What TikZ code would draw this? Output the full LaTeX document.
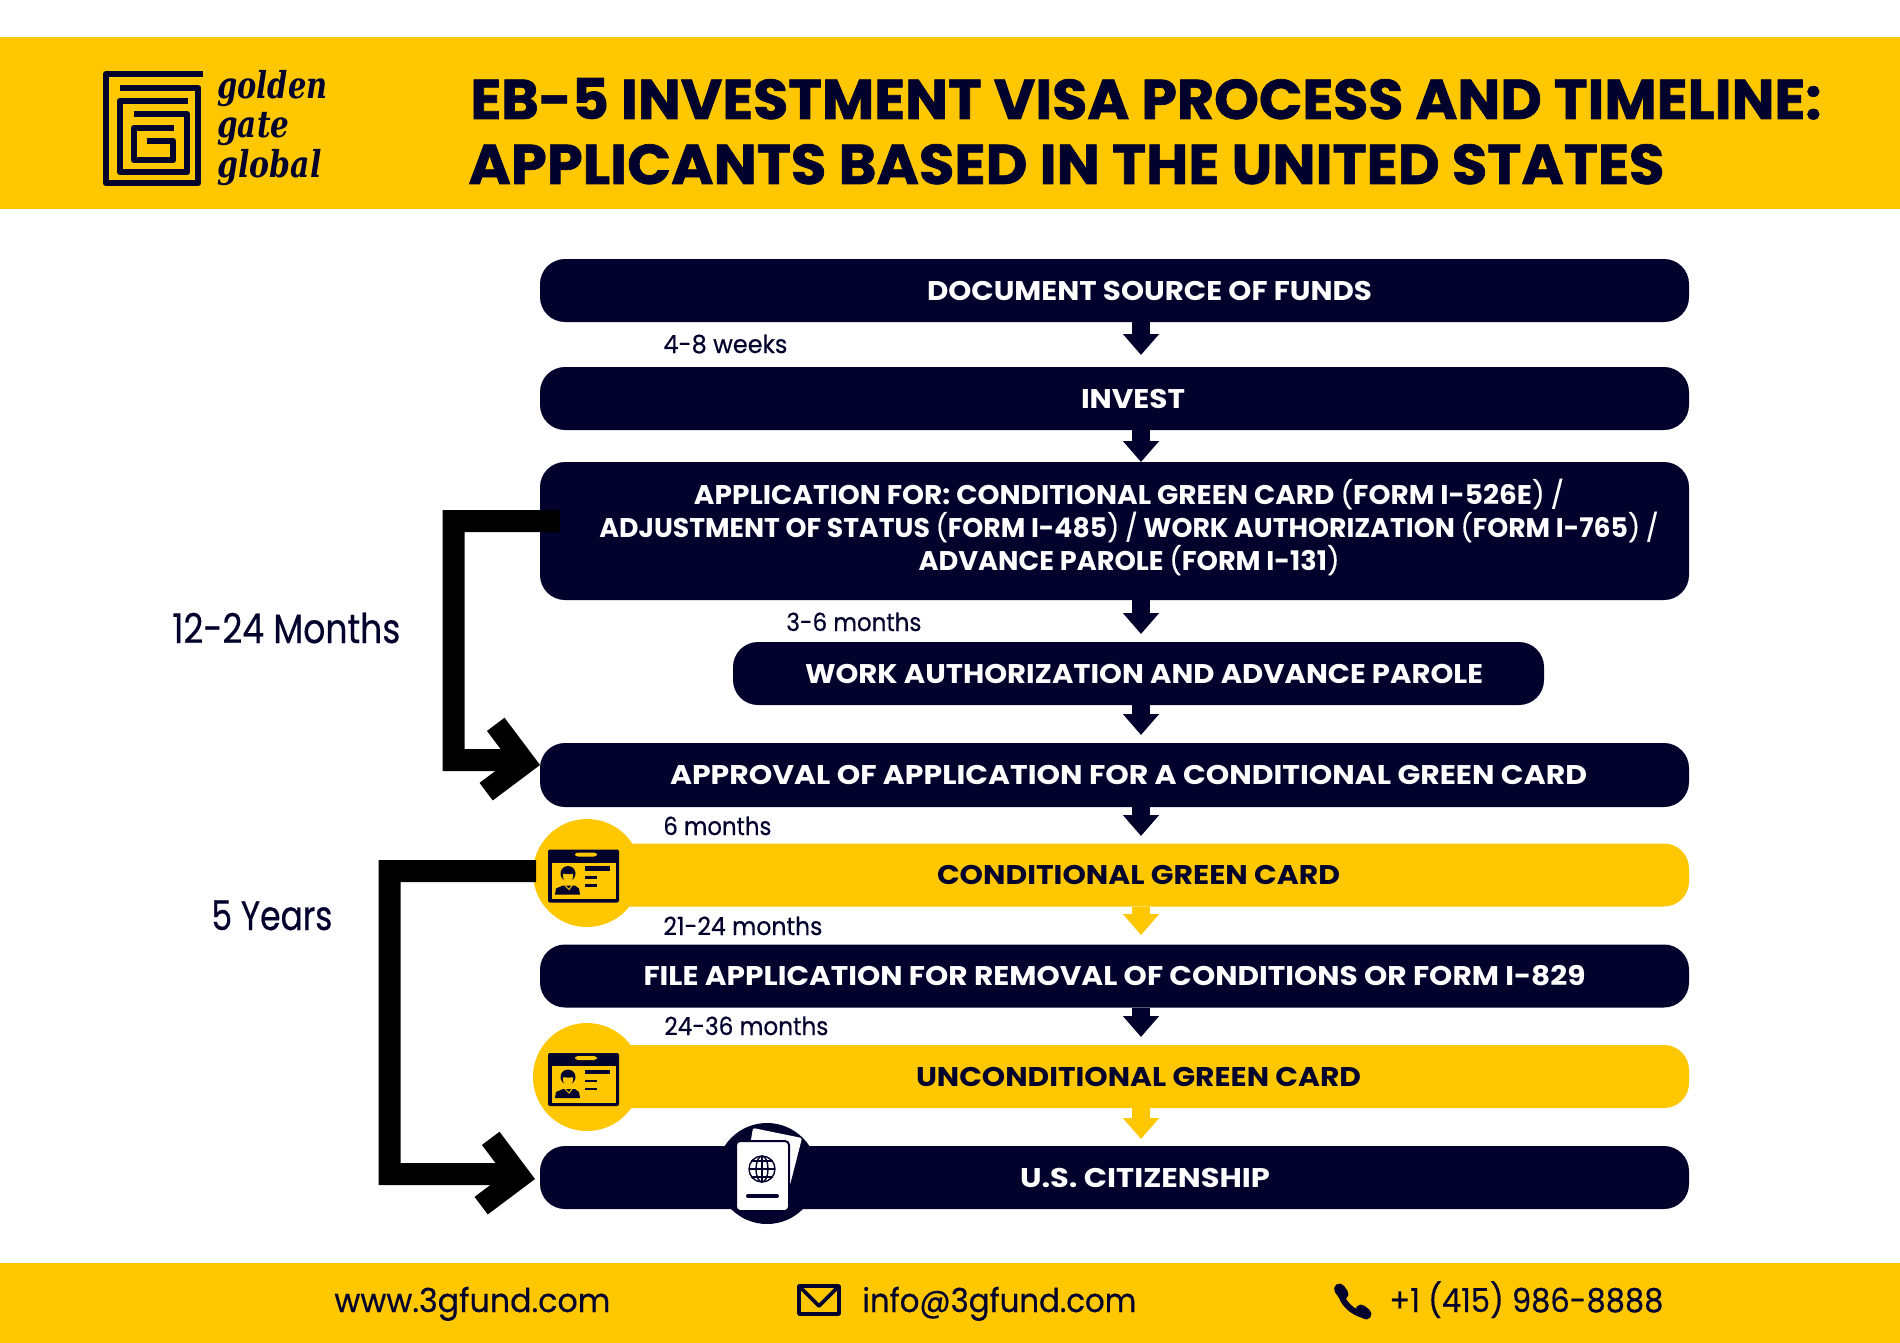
\documentclass[tikz,border=0pt]{standalone}
\usepackage{fontspec}
\usepackage{graphicx}
\usetikzlibrary{arrows.meta}
\setmainfont{Poppins}
\newfontfamily\barface{Poppins}[UprightFont=* Bold]
\newfontfamily\titleface{Poppins}[UprightFont=* Bold,FakeBold=1.2]
\newfontfamily\logoface{DejaVu Serif}[UprightFont=* Bold Italic]
\newfontfamily\medface{Poppins}[FakeBold=0.5]
\newlength\px \setlength\px{0.5pt}
\newcommand\fitw[2]{\resizebox{#1\px}{\height}{#2}}
\newcommand\bt[3]{\hspace*{#1\px}\fitw{#2}{#3}}
\newcommand\lparen{{\medface(}}
\newcommand\rparen{{\medface)}}
\newcommand\slsh{{\medface/}}
\definecolor{navy}{HTML}{02022D}
\definecolor{gold}{HTML}{FFC700}
\tikzset{
  barbox/.style={rounded corners=12.5pt,minimum height=31.5pt,inner sep=0pt,anchor=center,text=white,
    font=\fontsize{13.5pt}{16.5pt}\barface,align=center},
  navybar/.style={barbox,fill=navy},
  goldbar/.style={barbox,fill=gold,text=navy},
  flow/.style={line width=9pt,-{Triangle[length=10.5pt,width=17.5pt]}},
  navyflow/.style={flow,draw=navy,fill=navy},
  goldflow/.style={flow,draw=gold,fill=gold},
  bigconn/.style={draw=black,line width=11pt,miter limit=10,-{Straight Barb[length=17pt,width=34pt,line width=11pt]}},
  lbl/.style={anchor=base west,inner sep=0pt,text=navy,font=\fontsize{12.5pt}{15pt}\medface},
  bigl/.style={anchor=base west,inner sep=0pt,text=navy,font=\fontsize{20.5pt}{24pt}\medface},
  foot/.style={anchor=base west,inner sep=0pt,text=navy,font=\fontsize{16.5pt}{20pt}\medface},
  head/.style={anchor=base west,inner sep=0pt,text=navy,font=\fontsize{28pt}{32pt}\titleface},
  logot/.style={anchor=base west,inner sep=0pt,text=navy,font=\fontsize{18.5pt}{20pt}\logoface},
  badge/.style={circle,fill=gold,minimum size=54pt,inner sep=0pt},
  idcard/.pic={
    \fill[navy,rounded corners=1pt] (-39,-27) rectangle (32,26);
    \fill[gold] (-35.5,-14) rectangle (28.5,22.5);
    \fill[gold,rounded corners=1.5pt] (-12,-24) rectangle (10,-20);
    \fill[navy] (-32,18) -- (-31,12) -- (-24,9) -- (-12,9) -- (-8,12) -- (-7,18) -- cycle;
    \fill[navy] (-19,-3) circle (7.5);
    \fill[gold] (-19,-0.5) ellipse (5 and 6);
    \fill[navy] (-24.5,-3.5) .. controls (-22,-2) and (-15,-2) .. (-13.5,-3.5) -- (-15,-8) -- (-23,-8) -- cycle;
    \draw[gold,line width=.5pt] (-22,9) -- (-18,13) -- (-15,9);
    \draw[navy,line width=2.2pt] (-2,-8) -- (23,-8);
    \draw[navy,line width=1.3pt] (-2,1) -- (10,1);
    \draw[navy,line width=1.3pt] (-2,9) -- (10,9);
  }
}
\begin{document}
\begin{tikzpicture}[x=0.5pt,y=-0.5pt]
\useasboundingbox (0,0) rectangle (1900,1343);
\fill[white] (0,0) rectangle (1900,1343);
\node[fill=gold,minimum width=950pt,minimum height=86pt,inner sep=0pt] (header) at (950,123) {};
\node[fill=gold,minimum width=950pt,minimum height=40pt,inner sep=0pt] (footer) at (950,1303) {};

% logo
\begin{scope}[navy,line width=3.4pt,line join=round]
\draw (203,74) -- (106,74) -- (106,183) -- (198,183) -- (198,88) -- (120,88);
\draw (188,101) -- (120,101) -- (120,172) -- (187,172) -- (187,114) -- (134,114);
\draw (174,128) -- (134,128) -- (134,160) -- (173,160) -- (173,141) -- (147,141);
\end{scope}
\node[logot] (lg1) at (217,98) {\fitw{110}{golden}};
\node[logot] (lg2) at (217,138) {\fitw{72}{gate}};
\node[logot] (lg3) at (217,177) {\fitw{104}{global}};

% title
\node[head] (t1) at (470,119) {\fitw{1351}{EB-5 INVESTMENT VISA PROCESS AND TIMELINE:}};
\node[head] (t2) at (468,184) {\fitw{1196}{APPLICANTS BASED IN THE UNITED STATES}};

% bars
\node[navybar,minimum width=574.5pt] (b1) at (1114.5,290.5) {\bt{70}{445}{DOCUMENT SOURCE OF FUNDS}};
\node[navybar,minimum width=574.5pt] (b2) at (1114.5,398.5) {\bt{37}{104}{INVEST}};
\node[navybar,minimum width=574.5pt,minimum height=69pt] (b3) at (1114.5,531) {%
  \bt{29}{870}{APPLICATION FOR: CONDITIONAL GREEN CARD \lparen FORM I-526E\rparen{} \slsh}\\
  \bt{29}{1059}{ADJUSTMENT OF STATUS \lparen FORM I-485\rparen{} \slsh{} WORK AUTHORIZATION \lparen FORM I-765\rparen{} \slsh}\\
  \bt{29}{421}{ADVANCE PAROLE \lparen FORM I-131\rparen}\rule[-13\px]{0pt}{13\px}};
\node[navybar,minimum width=405.5pt] (b4) at (1138.5,673.5) {\bt{11}{678}{WORK AUTHORIZATION AND ADVANCE PAROLE}};
\node[navybar,minimum width=574.5pt,minimum height=32pt] (b5) at (1114.5,775) {\bt{28}{917}{APPROVAL OF APPLICATION FOR A CONDITIONAL GREEN CARD}};
\node[goldbar,minimum width=559.5pt] (b6) at (1129.5,875) {\bt{18}{403}{CONDITIONAL GREEN CARD}};
\node[navybar,minimum width=574.5pt] (b7) at (1114.5,976) {\fitw{942}{FILE APPLICATION FOR REMOVAL OF CONDITIONS OR FORM I-829}};
\node[goldbar,minimum width=559.5pt] (b8) at (1129.5,1076.5) {\bt{18}{445}{UNCONDITIONAL GREEN CARD}};
\node[navybar,minimum width=574.5pt] (b9) at (1114.5,1177.5) {\bt{61}{250}{U.S. CITIZENSHIP}};

% badges
\node[badge] (c1) at (587,873) {};
\node[badge] (c2) at (587,1077) {};
\pic at (587,876.5) {idcard};
\pic at (587,1080) {idcard};
\node[circle,fill=navy,minimum size=50.5pt,inner sep=0pt] (c3) at (767,1173.5) {};
\fill[white,rounded corners=1pt] (753,1128) -- (802,1138) -- (790,1185) -- (745,1175) -- cycle;
\fill[white,rounded corners=2pt,draw=navy,line width=1pt] (736,1141) rectangle (789,1211);
\draw[navy,line width=.7pt] (762,1169) circle (13);
\draw[navy,line width=.7pt] (762,1169) ellipse (6 and 13);
\draw[navy,line width=.7pt] (749,1169) -- (775,1169) (751,1161) -- (773,1161) (751,1177) -- (773,1177);
\draw[navy,line width=.7pt] (762,1156) -- (762,1182);
\draw[navy,line width=2pt,line cap=round] (748,1196) -- (777,1196);

% small arrows
\coordinate (ax) at (1141,0);
\coordinate (t1e) at (1141,355);
\coordinate (t2e) at (1141,462);
\coordinate (t3e) at (1141,634);
\coordinate (t4e) at (1141,735);
\coordinate (t5e) at (1141,836);
\coordinate (t6e) at (1141,935);
\coordinate (t7e) at (1141,1037);
\coordinate (t8e) at (1141,1139);
\draw[navyflow] (b1.south -| ax) -- (t1e);
\draw[navyflow] (b2.south -| ax) -- (t2e);
\draw[navyflow] (b3.south -| ax) -- (t3e);
\draw[navyflow] (b4.south -| ax) -- (t4e);
\draw[navyflow] (b5.south -| ax) -- (t5e);
\draw[goldflow] (b6.south -| ax) -- (t6e);
\draw[navyflow] (b7.south -| ax) -- (t7e);
\draw[goldflow] (b8.south -| ax) -- (t8e);

% big connectors
\coordinate (k1s) at (560,521);
\coordinate (k1a) at (453.5,521);
\coordinate (k1b) at (453.5,760);
\coordinate (k1c) at (505,760);
\coordinate (k1t) at (540,765);
\draw[bigconn] (k1s) -- (k1a) -- (k1b) -- (k1c) -- (k1t);
\coordinate (k2s) at (536,871);
\coordinate (k2a) at (389.5,871);
\coordinate (k2b) at (389.5,1174);
\coordinate (k2c) at (500,1174);
\coordinate (k2t) at (535,1179);
\draw[bigconn] (k2s) -- (k2a) -- (k2b) -- (k2c) -- (k2t);

% labels
\node[lbl] (l1) at (663,353) {\fitw{124}{4-8 weeks}};
\node[lbl] (l2) at (786,631) {\fitw{135}{3-6 months}};
\node[lbl] (l3) at (663,835) {\fitw{108}{6 months}};
\node[lbl] (l4) at (663,935) {\fitw{159}{21-24 months}};
\node[lbl] (l5) at (664,1035) {\fitw{164}{24-36 months}};
\node[bigl] (m1) at (172,643) {\fitw{228}{12-24 Months}};
\node[bigl] (m2) at (211,930) {\fitw{121}{5 Years}};

% footer
\node[foot] (f1) at (334,1312) {\fitw{276}{www.3gfund.com}};
\node[foot] (f2) at (862,1312) {\fitw{274}{info@3gfund.com}};
\node[foot] (f3) at (1389,1312) {\fitw{274}{+1 (415) 986-8888}};
\draw[navy,line width=1.8pt,line join=round] (799,1286) rectangle (839,1314);
\draw[navy,line width=1.8pt,line join=round] (799,1286) -- (819,1306) -- (839,1286);
\draw[navy,line width=3pt] (1340,1291) .. controls (1342,1303) and (1352,1312) .. (1363,1315);
\draw[navy,line width=5.5pt,line cap=round] (1339.5,1289) -- (1343,1294);
\draw[navy,line width=5.5pt,line cap=round] (1361,1310) -- (1366,1314);
\end{tikzpicture}
\end{document}
